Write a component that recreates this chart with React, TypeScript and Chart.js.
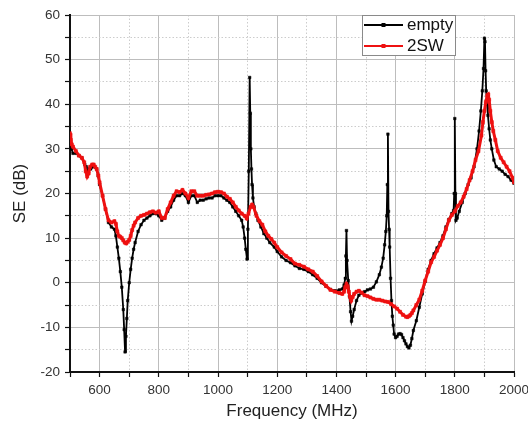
import React, { useEffect, useRef } from 'react';
import { Chart, registerables } from 'chart.js';

Chart.register(...registerables);

const seriesNames = ['empty', '2SW'];

const freqEmpty = [500,505,510,520,530,540,550,555,560,565,570,580,590,595,600,610,620,630,640,650,655,660,665,670,675,680,683,686,689,692,695,700,705,710,715,720,730,740,750,760,770,780,790,800,810,820,830,840,850,860,870,880,890,900,910,920,930,940,950,960,970,980,990,1000,1010,1020,1030,1040,1050,1060,1070,1080,1085,1090,1094,1098,1101,1104,1107,1109,1111,1113,1115,1118,1122,1128,1135,1145,1155,1165,1175,1190,1200,1215,1230,1245,1260,1275,1290,1305,1320,1335,1350,1365,1380,1395,1410,1420,1426,1430,1432,1434,1436,1440,1444,1448,1451,1455,1460,1468,1476,1485,1495,1505,1515,1525,1535,1545,1552,1558,1563,1567,1570,1572,1574,1576,1578,1580,1583,1586,1589,1592,1595,1600,1605,1610,1615,1620,1625,1630,1635,1640,1645,1650,1655,1660,1670,1680,1690,1700,1710,1720,1730,1740,1750,1760,1770,1780,1790,1796,1798,1800,1802,1804,1808,1815,1825,1835,1845,1855,1865,1875,1882,1888,1893,1897,1900,1902,1904,1906,1909,1912,1916,1920,1925,1932,1940,1950,1960,1970,1980,1990,2000];
const seEmpty = [30.5,30,29,29,28.5,28,26.5,26,25,25.5,25.5,26,25.5,24,22,19.5,16.5,13.5,12.5,12,10.5,8,5.5,2.5,-1,-6,-10.5,-15.5,-12,-8,-4,0,3,5.5,7.5,9,11.5,13,14,14.5,15,15.5,15.5,15,14,14.5,16,17,18.5,19.5,19.5,20,19.5,18,19.5,19.5,18,18.5,18.5,18.8,19,19,19.5,19.5,19.5,19,18.5,18,17,16,15,14,12.5,10,7.5,5.3,12,25,46,38,30,25.5,22,19,17,15.5,14,12.5,11,10,9,8,7,5.8,5,4.5,3.8,3.2,3,2.5,1.8,1,0,-0.8,-1.5,-1.8,-1.6,-1.4,-0.5,1,6,11.7,5,0.5,-3,-6.5,-8.6,-7.5,-6,-4,-2.8,-2.3,-2,-1.6,-1.4,-1,0.2,1.8,3.5,5.5,8.5,11.5,15,22,33.3,16,12,8,1,-4,-7.5,-9.5,-11.5,-12.3,-12,-11.5,-11.4,-11.6,-12.3,-13,-13.7,-14.3,-14.6,-14,-12.5,-10.7,-8.5,-5.5,-2.5,0.3,3,5,6.5,7.8,9,10.5,12.5,14.2,15.5,16.2,20,36.8,20,14,14.5,16,18,20,22,23.5,26,30,34,38.5,43,48,54.8,54,47.5,43,40,37.5,34.5,32,30,27.5,26,25.5,25,24.3,23.8,23,22.3];

const freq2SW = [500,503,506,510,520,530,540,548,553,558,563,568,575,580,585,590,596,600,610,620,630,640,650,655,660,665,670,675,680,685,690,695,700,705,710,715,720,730,740,750,760,770,780,790,800,810,820,830,840,850,860,870,880,890,900,910,920,930,940,950,960,970,980,990,1000,1010,1020,1030,1040,1050,1060,1070,1080,1090,1097,1103,1110,1115,1120,1130,1140,1150,1160,1170,1180,1190,1200,1215,1230,1245,1260,1275,1290,1305,1320,1335,1350,1365,1380,1395,1410,1420,1426,1430,1434,1438,1442,1446,1450,1455,1460,1468,1476,1485,1495,1505,1515,1525,1535,1545,1555,1565,1575,1585,1595,1605,1615,1625,1635,1640,1645,1650,1655,1660,1670,1680,1690,1700,1710,1720,1730,1740,1750,1760,1770,1780,1790,1800,1810,1820,1830,1840,1850,1860,1870,1880,1890,1895,1900,1905,1910,1913,1916,1920,1925,1930,1937,1945,1955,1965,1975,1985,1995,2000];
const se2SW = [33.5,32,31,30.5,29.5,28.5,28,27,25,23.8,24.5,26,26.5,26.5,26,25.5,24,22.5,19.5,16.5,14,13.5,13.8,13.2,11.5,10.5,10.3,10,9.5,9,8.8,9.2,9.6,10.5,11.8,12.8,13.5,14.5,15,15.2,15.5,15.8,16,15.7,16,14.5,14.5,16.5,18,19.5,20.5,20.3,20.8,20,19,20.5,20.5,19.5,19.5,19.5,19.7,19.8,20,20.3,20.4,20.3,20,19.3,18.8,18,17,16.2,15.5,15,14.4,15.5,17,17.5,17,15,13.8,13,11.5,10.5,9.8,9,8,6.8,6,5.3,4.3,4,3.6,3,2.5,1.5,0.3,-0.7,-1.6,-2,-2.3,-2.5,-2,-1,-0.3,-0.8,-2,-3.2,-4,-3.2,-2.5,-2,-1.8,-2.2,-2.8,-3,-3.3,-3.6,-3.8,-3.8,-4,-4.2,-4.3,-4.8,-5.3,-5.8,-6.5,-7.2,-7.6,-7.7,-7.5,-7.2,-6.8,-6.2,-5,-3.8,-1.8,0.5,2.5,4.6,5.8,7.2,8.5,10,12,14,15.2,16,17.2,18,19.3,21,23,25,27.5,29.5,33,36,38.5,40.5,42,42.2,41,38.5,36,34,32,29.5,28,27,26,25,23.5,22.5];

const xMin = 500, xMax = 2000, xStep = 100, xLabelEvery = 200;
const yMin = -20, yMax = 60, yStep = 5, yLabelEvery = 10;

const FONT = "'Liberation Sans', Arial, sans-serif";

const legendPlugin = {
  id: 'innerLegend',
  afterDraw(chart: any) {
    const { ctx, chartArea } = chart;
    const w = 93, h = 40;
    const left = chartArea.right - 152;
    const top = chartArea.top;
    ctx.save();
    ctx.fillStyle = '#ffffff';
    ctx.fillRect(left, top, w, h);
    ctx.strokeStyle = '#8a8a8a';
    ctx.lineWidth = 1;
    ctx.strokeRect(left + 0.5, top + 0.5, w, h);
    const rows = [top + 10, top + 31];
    chart.data.datasets.forEach((ds: any, i: number) => {
      const y = rows[i];
      ctx.strokeStyle = ds.borderColor;
      ctx.lineWidth = 2;
      ctx.beginPath();
      ctx.moveTo(left + 2, y);
      ctx.lineTo(left + 41, y);
      ctx.stroke();
      ctx.fillStyle = ds.pointBackgroundColor;
      ctx.fillRect(left + 19.5, y - 2, 4, 4);
      ctx.fillStyle = '#111';
      ctx.font = `17px ${FONT}`;
      ctx.textBaseline = 'middle';
      ctx.textAlign = 'left';
      ctx.fillText(ds.label, left + 45, y);
    });
    ctx.restore();
  },
};

export default function App() {
  const ref = useRef<HTMLCanvasElement | null>(null);
  useEffect(() => {
    document.body.style.margin = '0';
    const canvas = ref.current!;
    const chart = new Chart(canvas, {
      type: 'line',
      data: {
        datasets: [
          {
            label: seriesNames[0],
            data: freqEmpty.map((f, i) => ({ x: f, y: seEmpty[i] })),
            borderColor: '#000000',
            backgroundColor: '#000000',
            pointBackgroundColor: '#000000',
            pointBorderColor: '#000000',
            pointStyle: 'rect',
            pointRadius: 1.8,
            pointBorderWidth: 0.5,
            borderWidth: 1.8,
            tension: 0,
            order: 1,
          },
          {
            label: seriesNames[1],
            data: freq2SW.map((f, i) => ({ x: f, y: se2SW[i] })),
            borderColor: '#ee1111',
            backgroundColor: '#ee1111',
            pointBackgroundColor: '#ee1111',
            pointBorderColor: '#ee1111',
            pointStyle: 'rect',
            pointRadius: 2.2,
            pointBorderWidth: 0.5,
            borderWidth: 3,
            tension: 0,
            order: 0,
          },
        ],
      },
      options: {
        responsive: false,
        animation: false,
        events: [],
        layout: { padding: { top: 15, right: 14, left: 0, bottom: 0 } },
        plugins: { legend: { display: false }, tooltip: { enabled: false } },
        scales: {
          x: {
            type: 'linear',
            min: xMin,
            max: xMax,
            ticks: {
              stepSize: xStep,
              autoSkip: false,
              maxRotation: 0,
              padding: 5,
              color: '#333',
              font: { family: FONT, size: 13.5 },
              callback: (v: any) => (Number(v) % xLabelEvery === 0 ? String(v) : ''),
            },
            grid: {
              color: (c: any) => (c.tick && c.tick.value % xLabelEvery === 0 ? '#bdbdbd' : '#cccccc'),
              lineWidth: 1,
              drawTicks: true,
              tickLength: 5,
              tickColor: '#111',
              tickWidth: 1.2,
            },
            border: {
              color: '#111',
              width: 2,
              dash: (c: any) => (c.tick && c.tick.value % xLabelEvery !== 0 ? [1.5, 2] : []),
            },
            title: {
              display: true,
              text: 'Frequency (MHz)',
              color: '#222',
              font: { family: FONT, size: 17 },
              padding: { top: 0, bottom: 6 },
            },
            afterFit: (s: any) => { s.height = 56; s.paddingRight = 0; s.paddingLeft = 0; },
          },
          y: {
            type: 'linear',
            min: yMin,
            max: yMax,
            ticks: {
              stepSize: yStep,
              autoSkip: false,
              padding: 5,
              color: '#333',
              font: { family: FONT, size: 13.5 },
              callback: (v: any) => (Number(v) % yLabelEvery === 0 ? String(v) : ''),
            },
            grid: {
              color: (c: any) => (c.tick && c.tick.value % yLabelEvery === 0 ? '#bdbdbd' : '#cccccc'),
              lineWidth: 1,
              drawTicks: true,
              tickLength: 5,
              tickColor: '#111',
              tickWidth: 1.2,
            },
            border: {
              color: '#111',
              width: 2,
              dash: (c: any) => (c.tick && c.tick.value % yLabelEvery !== 0 ? [1.5, 2] : []),
            },
            title: {
              display: true,
              text: 'SE (dB)',
              color: '#222',
              font: { family: FONT, size: 17 },
              padding: { top: 10, bottom: 0 },
            },
            afterFit: (s: any) => { s.width = 70; s.paddingTop = 0; s.paddingBottom = 0; },
          },
        },
      },
      plugins: [legendPlugin],
    } as any);
    return () => chart.destroy();
  }, []);
  return <canvas ref={ref} width={528} height={428} style={{ display: 'block', width: 528, height: 428 }} />;
}
